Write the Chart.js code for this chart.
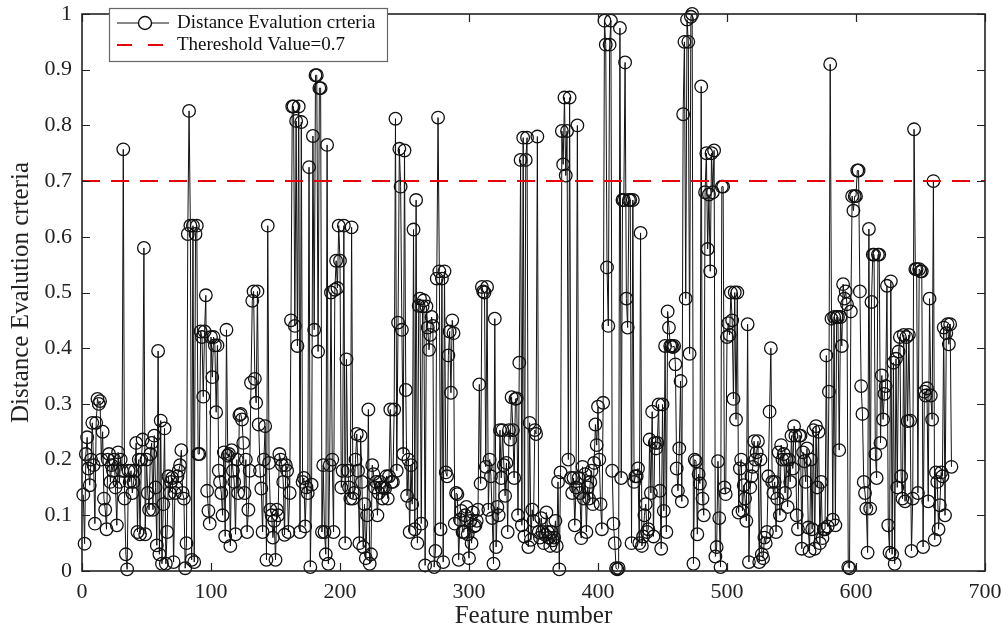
<!DOCTYPE html>
<html>
<head>
<meta charset="utf-8">
<title>Distance Evalution crteria</title>
<script src="https://cdn.jsdelivr.net/npm/chart.js@4.4.0/dist/chart.umd.min.js"></script>
<style>
  html, body { margin: 0; padding: 0; background: #fff; }
  #wrap { width: 1008px; height: 633px; }
</style>
</head>
<body>
<div id="wrap"><canvas id="distChart" width="1008" height="633"></canvas></div>
<script>
// Valeurs (une valeur par feature, feature 1 .. 674)
const featureValues = [
  0.137, 0.049, 0.21, 0.24, 0.184, 0.154, 0.2, 0.266, 0.19, 0.085,      // 1-10
  0.266, 0.309, 0.3, 0.305, 0.2, 0.25, 0.13, 0.11, 0.075, 0.2,          // 11-20
  0.21, 0.16, 0.19, 0.18, 0.2, 0.15, 0.082, 0.213, 0.16, 0.2,           // 21-30
  0.18, 0.757, 0.13, 0.03, 0.003, 0.18, 0.16, 0.18, 0.14, 0.16,         // 31-40
  0.18, 0.23, 0.07, 0.2, 0.066, 0.2, 0.236, 0.58, 0.066, 0.2,           // 41-50
  0.14, 0.11, 0.21, 0.23, 0.11, 0.243, 0.15, 0.046, 0.395, 0.03,        // 51-60
  0.27, 0.013, 0.12, 0.256, 0.013, 0.07, 0.17, 0.14, 0.16, 0.167,       // 61-70
  0.016, 0.14, 0.15, 0.17, 0.18, 0.19, 0.217, 0.14, 0.13, 0.005,        // 71-80
  0.05, 0.605, 0.826, 0.62, 0.02, 0.62, 0.016, 0.605, 0.62, 0.21,       // 81-90
  0.21, 0.43, 0.42, 0.313, 0.43, 0.495, 0.144, 0.108, 0.085, 0.42,      // 91-100
  0.348, 0.42, 0.405, 0.285, 0.405, 0.18, 0.16, 0.14, 0.1, 0.213,       // 101-110
  0.062, 0.433, 0.207, 0.21, 0.045, 0.217, 0.18, 0.16, 0.066, 0.2,      // 111-120
  0.14, 0.28, 0.282, 0.272, 0.23, 0.14, 0.2, 0.07, 0.11, 0.18,          // 121-130
  0.338, 0.485, 0.502, 0.345, 0.302, 0.502, 0.263, 0.18, 0.148, 0.07,   // 131-140
  0.2, 0.26, 0.02, 0.62, 0.194, 0.11, 0.1, 0.06, 0.09, 0.02,            // 141-150
  0.11, 0.1, 0.21, 0.2, 0.19, 0.16, 0.065, 0.19, 0.18, 0.07,            // 151-160
  0.14, 0.45, 0.834, 0.834, 0.44, 0.808, 0.404, 0.834, 0.07, 0.806,     // 161-170
  0.16, 0.167, 0.08, 0.15, 0.14, 0.725, 0.007, 0.155, 0.781, 0.433,     // 171-180
  0.89, 0.89, 0.394, 0.867, 0.867, 0.07, 0.19, 0.07, 0.03, 0.765,       // 181-190
  0.013, 0.19, 0.5, 0.2, 0.07, 0.505, 0.557, 0.508, 0.62, 0.557,        // 191-200
  0.15, 0.18, 0.62, 0.05, 0.38, 0.18, 0.15, 0.13, 0.617, 0.13,          // 201-210
  0.14, 0.2, 0.246, 0.18, 0.05, 0.243, 0.16, 0.043, 0.12, 0.023,        // 211-220
  0.1, 0.29, 0.013, 0.03, 0.19, 0.174, 0.15, 0.16, 0.1, 0.14,           // 221-230
  0.16, 0.15, 0.13, 0.15, 0.148, 0.17, 0.13, 0.17, 0.29, 0.16,          // 231-240
  0.16, 0.29, 0.812, 0.18, 0.446, 0.758, 0.69, 0.433, 0.21, 0.755,      // 241-250
  0.325, 0.135, 0.2, 0.07, 0.19, 0.12, 0.613, 0.075, 0.666, 0.05,       // 251-260
  0.476, 0.489, 0.085, 0.475, 0.486, 0.01, 0.475, 0.437, 0.397, 0.424,  // 261-270
  0.456, 0.44, 0.007, 0.036, 0.525, 0.814, 0.538, 0.075, 0.525, 0.016,  // 271-280
  0.538, 0.177, 0.17, 0.387, 0.43, 0.32, 0.45, 0.427, 0.085, 0.14,      // 281-290
  0.138, 0.02, 0.092, 0.108, 0.07, 0.07, 0.1, 0.115, 0.066, 0.023,      // 291-300
  0.09, 0.05, 0.105, 0.08, 0.082, 0.09, 0.11, 0.335, 0.157, 0.51,       // 301-310
  0.502, 0.5, 0.187, 0.51, 0.11, 0.2, 0.17, 0.095, 0.013, 0.453,        // 311-320
  0.043, 0.115, 0.1, 0.253, 0.167, 0.253, 0.19, 0.135, 0.194, 0.07,     // 321-330
  0.253, 0.236, 0.312, 0.253, 0.167, 0.309, 0.31, 0.1, 0.374, 0.738,    // 331-340
  0.082, 0.778, 0.062, 0.738, 0.778, 0.043, 0.266, 0.056, 0.11, 0.09,   // 341-350
  0.253, 0.246, 0.78, 0.07, 0.06, 0.095, 0.07, 0.05, 0.065, 0.105,      // 351-360
  0.07, 0.06, 0.045, 0.07, 0.055, 0.06, 0.09, 0.045, 0.16, 0.003,       // 361-370
  0.177, 0.79, 0.73, 0.85, 0.71, 0.79, 0.2, 0.85, 0.167, 0.14,          // 371-380
  0.167, 0.082, 0.15, 0.8, 0.167, 0.14, 0.059, 0.187, 0.13, 0.174,      // 381-390
  0.07, 0.15, 0.13, 0.16, 0.18, 0.12, 0.194, 0.263, 0.226, 0.295,       // 391-400
  0.2, 0.12, 0.075, 0.302, 0.988, 0.945, 0.545, 0.44, 0.945, 0.988,     // 401-410
  0.18, 0.085, 0.05, 0.005, 0.003, 0.005, 0.975, 0.167, 0.666, 0.666,   // 411-420
  0.913, 0.489, 0.437, 0.666, 0.666, 0.05, 0.666, 0.16, 0.17, 0.17,     // 421-430
  0.184, 0.05, 0.607, 0.045, 0.062, 0.1, 0.12, 0.07, 0.075, 0.236,      // 431-440
  0.14, 0.286, 0.062, 0.23, 0.22, 0.23, 0.299, 0.144, 0.04, 0.299,      // 441-450
  0.108, 0.404, 0.07, 0.466, 0.437, 0.404, 0.404, 0.402, 0.404, 0.371,  // 451-460
  0.184, 0.144, 0.22, 0.341, 0.125, 0.82, 0.95, 0.489, 0.99, 0.95,      // 461-470
  0.39, 0.995, 1.0, 0.013, 0.2, 0.197, 0.066, 0.174, 0.157, 0.87,       // 471-480
  0.13, 0.1, 0.68, 0.75, 0.578, 0.676, 0.538, 0.75, 0.68, 0.755,        // 481-490
  0.026, 0.043, 0.197, 0.095, 0.007, 0.69, 0.69, 0.15, 0.138, 0.42,     // 491-500
  0.445, 0.424, 0.5, 0.45, 0.309, 0.5, 0.272, 0.5, 0.105, 0.184,        // 501-510
  0.2, 0.108, 0.154, 0.13, 0.09, 0.443, 0.016, 0.15, 0.17, 0.187,       // 511-520
  0.233, 0.2, 0.213, 0.233, 0.016, 0.2, 0.03, 0.023, 0.06, 0.05,        // 521-530
  0.07, 0.17, 0.286, 0.4, 0.16, 0.14, 0.16, 0.07, 0.13, 0.213,          // 531-540
  0.1, 0.226, 0.2, 0.21, 0.14, 0.2, 0.115, 0.2, 0.16, 0.243,            // 541-550
  0.184, 0.26, 0.243, 0.1, 0.075, 0.243, 0.243, 0.04, 0.213, 0.197,     // 551-560
  0.16, 0.22, 0.078, 0.036, 0.2, 0.075, 0.253, 0.04, 0.26, 0.15,        // 561-570
  0.25, 0.05, 0.16, 0.059, 0.075, 0.075, 0.387, 0.08, 0.322, 0.91,      // 571-580
  0.453, 0.092, 0.456, 0.082, 0.456, 0.456, 0.217, 0.456, 0.404, 0.515, // 581-590
  0.489, 0.502, 0.479, 0.007, 0.005, 0.466, 0.673, 0.647, 0.673, 0.673, // 591-600
  0.719, 0.719, 0.502, 0.332, 0.282, 0.16, 0.14, 0.112, 0.033, 0.614,   // 601-610
  0.112, 0.483, 0.568, 0.568, 0.21, 0.167, 0.568, 0.568, 0.23, 0.351,   // 611-620
  0.272, 0.318, 0.332, 0.512, 0.082, 0.033, 0.52, 0.03, 0.374, 0.013,   // 621-630
  0.381, 0.15, 0.394, 0.42, 0.17, 0.13, 0.424, 0.125, 0.42, 0.269,      // 631-640
  0.424, 0.27, 0.036, 0.13, 0.793, 0.542, 0.542, 0.14, 0.542, 0.538,    // 641-650
  0.538, 0.043, 0.322, 0.315, 0.328, 0.125, 0.489, 0.315, 0.272, 0.7,   // 651-660
  0.056, 0.177, 0.16, 0.075, 0.118, 0.177, 0.17, 0.437, 0.1, 0.427,     // 661-670
  0.443, 0.407, 0.443, 0.187                                            // 671-674
];

const thresholdValue = 0.7;
const xTickValues = [0, 100, 200, 300, 400, 500, 600, 700];
const yTickValues = [0, 0.1, 0.2, 0.3, 0.4, 0.5, 0.6, 0.7, 0.8, 0.9, 1];
const seriesLabels = ['Distance Evalution crteria', 'Thereshold Value=0.7'];

const SERIF = "'Liberation Serif', 'Times New Roman', serif";

// points (feature number, value)
const distPoints = featureValues.map((v, i) => ({ x: i + 1, y: v }));
const thresholdPoints = [
  { x: xTickValues[0], y: thresholdValue },
  { x: xTickValues[xTickValues.length - 1], y: thresholdValue }
];

// cadre, graduations vers l'interieur et legende facon MATLAB
const matlabFrame = {
  id: 'matlabFrame',
  afterDraw(chart) {
    const { ctx, chartArea: a, scales } = chart;
    const tick = 8;
    ctx.save();
    ctx.strokeStyle = '#222';
    ctx.lineWidth = 1.2;
    ctx.beginPath();
    xTickValues.forEach(v => {
      const px = Math.round(scales.x.getPixelForValue(v)) + 0.5;
      ctx.moveTo(px, a.bottom); ctx.lineTo(px, a.bottom - tick);
      ctx.moveTo(px, a.top); ctx.lineTo(px, a.top + tick);
    });
    yTickValues.forEach(v => {
      const py = Math.round(scales.y.getPixelForValue(v)) + 0.5;
      ctx.moveTo(a.left, py); ctx.lineTo(a.left + tick, py);
      ctx.moveTo(a.right, py); ctx.lineTo(a.right - tick, py);
    });
    ctx.stroke();
    ctx.lineWidth = 1.6;
    ctx.strokeRect(a.left, a.top, a.right - a.left, a.bottom - a.top);

    // legende
    const bx = 109.5, by = 8.5, bw = 278, bh = 53;
    ctx.fillStyle = '#fff';
    ctx.fillRect(bx, by, bw, bh);
    ctx.strokeStyle = '#666';
    ctx.lineWidth = 1.2;
    ctx.strokeRect(bx, by, bw, bh);

    const row1 = 23, row2 = 45;
    ctx.strokeStyle = '#111';
    ctx.lineWidth = 1;
    ctx.beginPath();
    ctx.moveTo(117, row1); ctx.lineTo(169, row1);
    ctx.stroke();
    ctx.beginPath();
    ctx.arc(145, row1, 6.5, 0, Math.PI * 2);
    ctx.fillStyle = '#fff';
    ctx.fill();
    ctx.lineWidth = 1.4;
    ctx.stroke();

    ctx.strokeStyle = '#e8000b';
    ctx.lineWidth = 2;
    ctx.beginPath();
    ctx.moveTo(117, row2); ctx.lineTo(132, row2);
    ctx.moveTo(148, row2); ctx.lineTo(163, row2);
    ctx.stroke();

    ctx.fillStyle = '#111';
    ctx.font = '19px ' + SERIF;
    ctx.textBaseline = 'middle';
    ctx.textAlign = 'left';
    ctx.fillText(seriesLabels[0], 177, row1);
    ctx.fillText(seriesLabels[1], 177, row2);
    ctx.restore();
  }
};

const ctx = document.getElementById('distChart');
new Chart(ctx.getContext('2d'), {
  type: 'line',
  data: {
    datasets: [
      {
        label: seriesLabels[1],
        data: thresholdPoints,
        borderColor: '#e8000b',
        borderWidth: 2,
        borderDash: [18, 11],
        pointRadius: 0,
        order: 0
      },
      {
        label: seriesLabels[0],
        data: distPoints,
        borderColor: '#111',
        borderWidth: 1,
        pointRadius: 6.3,
        pointStyle: 'circle',
        pointBorderColor: '#111',
        pointBorderWidth: 1.3,
        pointBackgroundColor: 'rgba(0,0,0,0)',
        tension: 0,
        clip: false,
        order: 1
      }
    ]
  },
  options: {
    responsive: false,
    animation: false,
    layout: { padding: { top: 14, right: 23, left: 0, bottom: 0 } },
    plugins: {
      legend: { display: false },
      tooltip: { enabled: false }
    },
    scales: {
      x: {
        type: 'linear',
        min: 0,
        max: 700,
        afterFit: s => { s.height = 62; s.paddingLeft = 0; s.paddingRight = 0; },
        afterBuildTicks: s => { s.ticks = xTickValues.map(v => ({ value: v })); },
        grid: { display: false, drawTicks: false },
        border: { display: false },
        ticks: {
          padding: 8,
          color: '#222',
          font: { family: SERIF, size: 22 },
          maxRotation: 0
        },
        title: {
          display: true,
          text: 'Feature number',
          color: '#222',
          font: { family: SERIF, size: 25 },
          padding: { top: 0, bottom: 2 }
        }
      },
      y: {
        min: 0,
        max: 1,
        afterFit: s => { s.width = 82; s.paddingTop = 0; s.paddingBottom = 0; },
        afterBuildTicks: s => { s.ticks = yTickValues.map(v => ({ value: v })); },
        grid: { display: false, drawTicks: false },
        border: { display: false },
        ticks: {
          padding: 10,
          color: '#222',
          font: { family: SERIF, size: 22 },
          callback: v => String(Number(v.toFixed(1)))
        },
        title: {
          display: true,
          text: 'Distance Evalution crteria',
          color: '#222',
          font: { family: SERIF, size: 25 },
          padding: { top: 6, bottom: 0 }
        }
      }
    }
  },
  plugins: [matlabFrame]
});
</script>
</body>
</html>
